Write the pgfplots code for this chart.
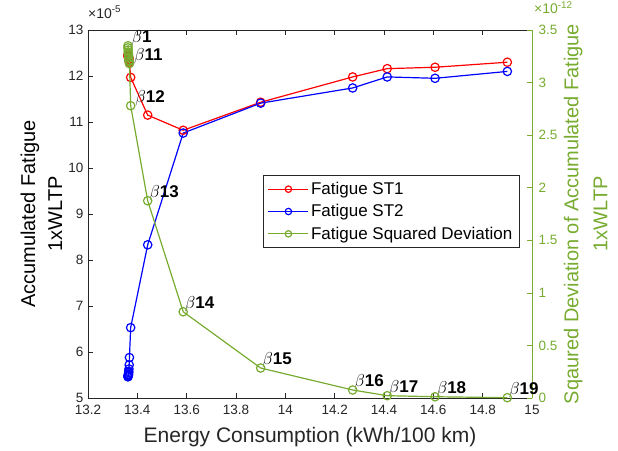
\documentclass[border=0pt]{standalone}
\usepackage{pgfplots}
\pgfplotsset{compat=1.18}
\usepackage{pgfplotstable}
\usepackage{fontspec}
\setmainfont{Liberation Sans}
\definecolor{mgreen}{RGB}{119,172,48}
\definecolor{mgray}{RGB}{38,38,38}
\tikzset{blab/.style={anchor=base west, inner sep=0pt, xshift=1.5pt, yshift=3.5pt,
    font=\fontsize{17}{20}\selectfont, text=black}}

\pgfplotstableread{
x      st1    st2    sq
13.362 12.46  5.46   3.35
13.362 12.45  5.47   3.33
13.363 12.44  5.48   3.31
13.363 12.43  5.49   3.29
13.364 12.42  5.50   3.27
13.364 12.41  5.52   3.26
13.365 12.40  5.55   3.24
13.365 12.38  5.58   3.23
13.366 12.36  5.63   3.21
13.367 12.33  5.72   3.20
13.368 12.30  5.88   3.18
13.373 11.97  6.53   2.78
13.442 11.15  8.33   1.876
13.586 10.82  10.76  0.82
13.900 11.43  11.41  0.285
14.273 11.98  11.74  0.076
14.413 12.16  11.98  0.022
14.607 12.19  11.95  0.012
14.900 12.30  12.10  0.003
}\datatable

\begin{document}
\begin{tikzpicture}
\useasboundingbox (-88pt,-52pt) rectangle (530pt,398pt);
\pgfplotsset{
  common/.style={
    width=444pt, height=368pt, scale only axis,
    at={(0,0)}, anchor=south west,
    xmin=13.2, xmax=15,
    tick align=inside, major tick length=5pt,
    /pgf/number format/assume math mode=true,
    ticklabel style={font=\fontsize{13.5}{16}\selectfont},
    clip=false,
  },
}
\begin{axis}[common,
  ymin=5, ymax=13, ytick={5,6,7,8,9,10,11,12,13},
  xtick={13.2,13.4,13.6,13.8,14,14.2,14.4,14.6,14.8,15},
  axis y line*=left, axis x line*=box,
  xtick pos=both, xticklabel pos=lower,
  axis line style={mgray, line width=0.6pt},
  tick style={mgray, line width=0.6pt},
  ticklabel style={text=mgray},
  xticklabel style={yshift=-4pt},
  yticklabel style={xshift=-1pt},
  xlabel={Energy Consumption (kWh/100 km)},
  xlabel style={font=\fontsize{21}{25}\selectfont, text=mgray,
    at={(axis description cs:0.5,-0.106)}, anchor=center},
  ylabel={Accumulated Fatigue\\1xWLTP},
  ylabel style={align=center, font=\fontsize{20}{27}\selectfont, text=black,
    at={(axis description cs:-0.105,0.5)}, anchor=center},
]
\addplot[red, line width=1.2pt, mark=o, mark size=4.2pt, mark options={solid}]
  table[x=x, y=st1]{\datatable};
\addplot[blue, line width=1.2pt, mark=o, mark size=4.2pt, mark options={solid}]
  table[x=x, y=st2]{\datatable};
\node[anchor=base west, inner sep=0pt, font=\fontsize{14}{16}\selectfont, text=mgray]
  at (rel axis cs:0,1) [yshift=12pt] {×10\textsuperscript{-5}};
\end{axis}

\begin{axis}[common,
  ymin=0, ymax=3.5, ytick={0,0.5,1,1.5,2,2.5,3,3.5},
  axis y line*=right, axis x line=none,
  y axis line style={mgreen, line width=0.6pt},
  ytick style={mgreen, line width=0.6pt},
  yticklabel style={text=mgreen, xshift=3pt},
  ylabel={Sqaured Deviation of Accumulated Fatigue\\1xWLTP},
  ylabel style={align=center, font=\fontsize{20}{29}\selectfont, text=mgreen,
    at={(axis description cs:1.1205,0.5)}, anchor=center},
  legend style={at={(0.971,0.606)}, anchor=north east, draw=mgray,
    line width=0.6pt, font=\fontsize{17}{20}\selectfont,
    inner xsep=4.5pt, inner ysep=5pt, row sep=4.5pt, cells={anchor=west}},
  legend image code/.code={\draw[mark repeat=2, mark phase=2, #1, mark size=3.2pt]
    plot coordinates {(0pt,0pt) (20pt,0pt) (40pt,0pt)};},
]
\addlegendimage{red, line width=1.2pt, mark=o}
\addlegendentry{Fatigue ST1}
\addlegendimage{blue, line width=1.2pt, mark=o}
\addlegendentry{Fatigue ST2}
\addplot[mgreen, line width=1.2pt, mark=o, mark size=4.2pt, mark options={solid}]
  table[x=x, y=sq]{\datatable};
\addlegendentry{Fatigue Squared Deviation}
\node[anchor=base west, inner sep=0pt, font=\fontsize{14}{16}\selectfont, text=mgreen]
  at (rel axis cs:1,1) [xshift=2pt, yshift=16pt] {×10\textsuperscript{-12}};
\node[blab, xshift=2pt] at (axis cs:13.362,3.35) {$\beta$\textbf{1}};
\node[blab, xshift=3pt] at (axis cs:13.368,3.18) {$\beta$\textbf{11}};
\node[blab, xshift=3pt] at (axis cs:13.373,2.78) {$\beta$\textbf{12}};
\node[blab] at (axis cs:13.442,1.876) {$\beta$\textbf{13}};
\node[blab] at (axis cs:13.586,0.82) {$\beta$\textbf{14}};
\node[blab] at (axis cs:13.900,0.285) {$\beta$\textbf{15}};
\node[blab] at (axis cs:14.273,0.076) {$\beta$\textbf{16}};
\node[blab] at (axis cs:14.413,0.022) {$\beta$\textbf{17}};
\node[blab] at (axis cs:14.607,0.012) {$\beta$\textbf{18}};
\node[blab] at (axis cs:14.900,0.003) {$\beta$\textbf{19}};
\end{axis}
\end{tikzpicture}
\end{document}
